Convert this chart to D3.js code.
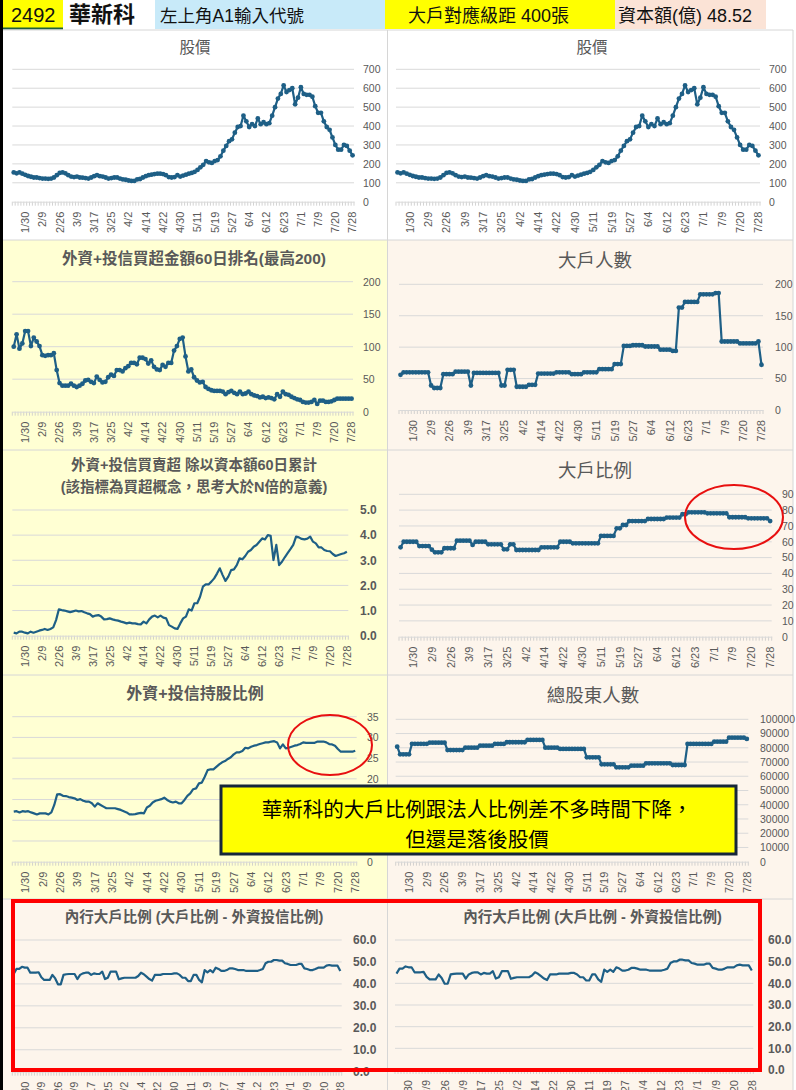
<!DOCTYPE html>
<html>
<head>
<meta charset="utf-8">
<script src="https://cdn.jsdelivr.net/npm/d3@7"></script>
<style>
  body { margin: 0; background: #fff; }
  svg text { font-family: "Liberation Sans", Arial, "Noto Sans CJK TC", sans-serif; }
</style>
</head>
<body>
<svg id="chart" width="796" height="1090"></svg>
<script>
// category axis: 119 trading days, only every 6th date is labelled
const tickLabels = ["1/30","2/9","2/26","3/9","3/17","3/25","4/2","4/14","4/22","4/30",
                    "5/11","5/19","5/27","6/4","6/12","6/23","7/1","7/9","7/20","7/28"];
const firstLabel = 4, labelEvery = 6;

// 股價
const price = [155,150,155,148,142,136,132,128,128,125,
  122,122,121,122,128,140,152,155,150,140,
  133,130,133,128,127,125,122,128,135,140,
  135,133,128,122,125,128,128,122,118,116,
  112,110,110,118,120,128,135,140,143,146,
  148,148,146,140,130,128,130,140,133,138,
  143,148,152,158,168,182,195,215,208,205,
  215,220,240,270,295,320,330,365,395,400,
  455,425,395,410,400,440,410,420,410,415,
  455,500,545,570,615,580,590,600,515,550,
  605,570,565,565,555,505,470,470,425,395,
  380,340,300,275,275,300,295,270,245];

// 外資+投信買超金額60日排名
const rank60 = [100,119,97,105,124,124,101,114,108,101,
  87,86,87,87,90,64,44,40,40,40,
  43,40,38,40,43,48,49,46,44,54,
  49,45,46,53,57,55,64,64,62,67,
  70,75,75,73,83,83,81,74,79,69,
  65,64,72,69,75,75,94,101,112,114,
  85,62,65,53,48,45,46,38,35,33,
  32,32,32,31,27,30,32,29,27,31,
  27,28,31,27,25,24,22,23,21,22,
  21,19,27,23,31,27,26,23,21,19,
  18,15,14,14,15,18,12,17,17,15,
  15,16,18,20,20,20,20,20,20];

// 大戶人數
const bigHolders = [56,60,60,60,60,60,60,60,60,60,
  39,35,35,35,57,57,57,57,61,61,
  61,61,61,39,59,59,59,59,59,59,
  59,59,59,39,39,64,64,64,37,37,
  37,37,40,40,40,58,58,58,58,58,
  58,60,60,60,60,60,57,57,57,57,
  60,60,60,60,60,65,65,65,65,65,
  73,73,73,102,102,102,103,103,103,103,
  101,101,101,101,101,96,96,96,96,94,
  94,163,163,172,172,172,172,172,184,184,
  184,184,184,186,186,109,109,109,109,109,
  109,106,106,106,106,106,106,109,72];

// 外資+投信買賣超 除以資本額60日累計
const netBuyRatio = [0.12,0.09,0.16,0.16,0.12,0.09,0.16,0.12,0.16,0.20,
  0.23,0.27,0.23,0.27,0.33,0.62,1.05,1.02,1.00,0.97,
  0.94,0.97,1.00,0.97,0.98,0.93,0.89,0.86,0.76,0.80,
  0.82,0.76,0.65,0.66,0.69,0.65,0.62,0.60,0.56,0.53,
  0.49,0.52,0.49,0.49,0.46,0.45,0.56,0.49,0.65,0.76,
  0.80,0.73,0.80,0.72,0.69,0.42,0.36,0.29,0.27,0.49,
  0.69,0.76,1.05,1.00,1.29,1.29,1.55,1.95,2.04,2.04,
  2.15,2.28,2.47,2.68,2.41,2.18,2.35,2.61,2.64,2.81,
  3.08,3.04,3.17,3.34,3.41,3.54,3.61,3.74,3.87,3.83,
  4.00,3.97,3.01,3.61,2.81,2.94,3.12,3.28,3.44,3.61,
  3.94,3.91,3.85,3.83,3.86,3.94,3.74,3.67,3.51,3.51,
  3.41,3.37,3.36,3.25,3.17,3.21,3.25,3.28,3.34];

// 大戶比例
const bigRatio = [56.5,60,60,60,60,60,57.3,57.3,57.3,57.3,
  55,53.3,53.3,53.3,55.9,55.9,55.9,55.9,60.7,60.7,
  60.7,60.7,60.7,58,60,60,60,60,58.4,58.4,
  58.4,58.4,58.4,55.2,55.2,58.4,58.4,54.8,54.8,54.8,
  54.8,54.8,54.8,54.8,54.8,56.5,56.5,56.5,56.5,56.5,
  56.5,60,60,60,60,59,59,59,59,59,
  59,59,59,59,63.7,63.7,63.7,63.7,63.7,68.5,
  68.5,70.6,70.6,73.1,73.1,73.1,73.1,73.1,73.1,74.4,
  74.4,74.4,74.4,74.4,74.4,75.3,75.3,75.3,75.3,75.3,
  77.4,77.4,78.6,78.6,78.6,78.6,78.6,78.6,78,78,
  78,78,78,78,78,75.5,75.5,75.5,75.5,75.5,
  75.5,74.8,74.8,74.8,74.8,74.8,74.8,74.8,73.1];

// 外資+投信持股比例
const instRatio = [12.07,12.2,11.9,12.2,12.07,12.2,11.9,11.67,11.4,11.67,
  11.67,11.67,11.4,11.9,13.7,16.25,16.3,15.9,15.85,15.6,
  15.45,15.3,14.9,15.1,14.7,14.5,14.5,14.1,13.3,14.1,
  13.7,13.3,12.9,12.9,12.9,12.9,12.7,12.5,12.2,11.9,
  11.4,11.4,11.5,11.67,11.8,11.67,13.1,13.5,14.3,14.7,
  14.9,15.1,15.45,14.9,14.5,14.3,14.5,14.1,14.1,14.9,
  15.9,16.5,17.5,17.7,18.9,19.1,20.5,22.1,22.3,22.3,
  22.9,23.5,24.0,24.3,24.8,25.2,25.9,26.4,26.4,26.7,
  27.5,27.35,27.75,28.0,28.15,28.4,28.6,28.8,28.8,29.0,
  29.1,28.8,27.35,28.3,27.35,27.5,27.75,28.0,28.15,28.4,
  28.8,28.7,28.7,28.7,28.7,29.0,29.0,29.0,28.8,28.4,
  28.3,28.0,27.2,26.55,26.55,26.55,26.55,26.55,26.8];

// 總股東人數
const shareholders = [80800,75400,75400,75400,75400,82800,82800,82800,82800,82800,
  82800,83600,83600,83600,83600,83600,83600,78400,78400,78400,
  78400,78400,78400,80100,80100,80100,80100,80100,81500,81500,
  81500,81500,81500,82700,82700,82700,82700,83900,83900,83900,
  83900,83900,83900,83900,85500,85500,85500,85500,85500,85500,
  80100,80100,80100,80100,80100,79200,79200,79200,79200,79200,
  79200,79200,79200,79200,73300,73300,73300,73300,73300,68400,
  68400,68400,68400,68400,66300,66300,66300,66300,66300,67400,
  67400,67400,67400,67400,69100,69100,69100,69100,69100,69100,
  69100,69100,69100,67900,67900,67900,67900,67900,82700,82700,
  82700,82700,82700,82700,82700,82700,82700,84300,84300,84300,
  84300,84300,87100,87100,87100,87100,87100,87100,86200];

// 內行大戶比例 (大戶比例 - 外資投信比例)
const insiderRatio = [44.5,46.8,46.8,47.8,47.4,47.4,45.1,45.1,45.1,45.3,
  43.0,41.8,41.8,41.8,44.1,42.5,39.8,39.8,44.1,44.4,
  44.5,44.5,44.5,42.2,44.1,44.8,45.1,45.1,44.1,44.8,
  44.5,44.5,45.6,42.2,42.8,45.6,45.6,45.6,42.1,42.5,
  42.8,42.8,42.8,42.8,42.8,43.6,45.1,44.4,43.3,42.2,
  41.5,44.1,44.1,44.1,44.5,44.5,44.5,44.5,44.8,44.8,
  44.1,42.8,42.8,41.3,41.3,44.1,44.1,41.8,40.7,46.3,
  45.3,46.3,45.3,47.4,46.8,45.9,45.9,46.3,47.1,47.1,
  46.8,46.3,46.3,46.3,45.9,45.9,45.9,45.9,45.9,46.3,
  46.8,49.4,50.1,50.1,50.9,50.9,50.6,50.6,49.4,49.1,
  48.6,48.6,48.6,49.1,49.1,47.1,46.8,46.3,46.3,46.8,
  47.4,47.4,47.4,48.3,48.6,48.3,48.3,48.3,45.9];

const svg = d3.select("#chart");
const lineColor = "#1e5f86", labelColor = "#595959", gridColor = "#d9d9d9";
const yellowBg = "#ffffd3", peachBg = "#fdf5ec";

// ---- backgrounds and cell borders
svg.append("rect").attr("x", 0).attr("y", 0).attr("width", 796).attr("height", 1090).attr("fill", "#fff");
svg.append("rect").attr("x", 3).attr("y", 240).attr("width", 385).attr("height", 659).attr("fill", yellowBg);
svg.append("rect").attr("x", 388).attr("y", 240).attr("width", 405).attr("height", 659).attr("fill", peachBg);
svg.append("rect").attr("x", 3).attr("y", 899).attr("width", 790).attr("height", 191).attr("fill", peachBg);
[240, 450, 675, 899].forEach(yy => svg.append("line")
  .attr("x1", 3).attr("x2", 793).attr("y1", yy).attr("y2", yy).attr("stroke", "#d6d6d6"));
[387.5, 793].forEach(xx => svg.append("line")
  .attr("x1", xx).attr("x2", xx).attr("y1", 30).attr("y2", 1090).attr("stroke", "#d6d6d6"));
svg.append("rect").attr("x", 0).attr("y", 0).attr("width", 3).attr("height", 1090).attr("fill", "#000");

// ---- header row
const header = [
  {x: 3, w: 60, fill: "#ffff00", text: "2492", tx: 11, size: 20, weight: "normal"},
  {x: 63, w: 92, fill: "#ffffff", text: "華新科", tx: 69, size: 22, weight: "bold"},
  {x: 155, w: 230, fill: "#c8eaf9", text: "左上角A1輸入代號", tx: 160, size: 17.5, weight: "normal"},
  {x: 385, w: 230, fill: "#ffff00", text: "大戶對應級距 400張", tx: 408, size: 18, weight: "normal"},
  {x: 615, w: 151, fill: "#fbe3d6", text: "資本額(億) 48.52", tx: 618, size: 18, weight: "normal"}
];
svg.selectAll(".hcell").data(header).join("rect")
  .attr("x", d => d.x).attr("y", 0).attr("width", d => d.w).attr("height", 29).attr("fill", d => d.fill);
svg.selectAll(".htext").data(header).join("text")
  .attr("x", d => d.tx).attr("y", 22).text(d => d.text)
  .attr("font-size", d => d.size).attr("font-weight", d => d.weight).attr("fill", "#111");
svg.append("line").attr("x1", 3).attr("x2", 63).attr("y1", 28.5).attr("y2", 28.5)
  .attr("stroke", "#1f5e3c").attr("stroke-width", 2);
svg.append("line").attr("x1", 3).attr("x2", 793).attr("y1", 30).attr("y2", 30).attr("stroke", "#d6d6d6");

// ---- one chart panel
function drawPanel(p) {
  const n = p.data.length;
  const g = svg.append("g");
  const x = d3.scaleBand().domain(d3.range(n)).range([p.x0, p.x1]);
  const y = d3.scaleLinear().domain([0, p.max]).range([p.yBot, p.yTop]);
  const ticks = d3.range(0, p.max + p.step / 2, p.step);

  g.selectAll(".grid").data(ticks.slice(1)).join("line")
    .attr("x1", p.x0).attr("x2", p.x1)
    .attr("y1", d => y(d)).attr("y2", d => y(d))
    .attr("stroke", gridColor);

  // small tick marks between categories
  g.selectAll(".minor").data(d3.range(n + 1)).join("line")
    .attr("x1", i => p.x0 + i * x.step()).attr("x2", i => p.x0 + i * x.step())
    .attr("y1", p.yBot).attr("y2", p.yBot + 4)
    .attr("stroke", "#c8c8c8").attr("stroke-width", 0.8);

  const labelIdx = tickLabels.map((_, k) => firstLabel + k * labelEvery);
  const xa = g.append("g").attr("transform", `translate(0,${p.yBot})`)
    .call(d3.axisBottom(x).tickValues(labelIdx)
      .tickFormat(i => tickLabels[(i - firstLabel) / labelEvery])
      .tickSize(0).tickSizeOuter(0));
  xa.select(".domain").attr("stroke", gridColor);
  xa.selectAll("text")
    .attr("transform", "rotate(-90)").attr("text-anchor", "end")
    .attr("x", -10).attr("y", 0).attr("dy", "0.35em")
    .attr("fill", labelColor).attr("font-size", 11);

  const ya = g.append("g").attr("transform", `translate(${p.lx},0)`)
    .call(d3.axisRight(y).tickValues(ticks).tickFormat(p.fmt).tickSize(0).tickPadding(0));
  ya.select(".domain").remove();
  ya.selectAll("text").attr("fill", labelColor)
    .attr("font-size", p.boldY ? 12 : 10.5)
    .attr("font-weight", p.boldY ? "bold" : "normal");

  const line = d3.line().x((d, i) => x(i) + x.bandwidth() / 2).y(d => y(d));
  g.append("path").datum(p.data).attr("d", line)
    .attr("fill", "none").attr("stroke", lineColor).attr("stroke-width", 2.2)
    .attr("stroke-linejoin", "round");
  if (p.markers) {
    g.selectAll(".dot").data(p.data).join("circle")
      .attr("cx", (d, i) => x(i) + x.bandwidth() / 2).attr("cy", d => y(d))
      .attr("r", 2.4).attr("fill", lineColor);
  }

  p.title.forEach((t, k) => g.append("text")
    .attr("x", p.tx).attr("y", p.ty[k]).attr("text-anchor", "middle")
    .attr("dominant-baseline", "central")
    .attr("font-size", p.tsize).attr("font-weight", p.tbold ? "bold" : "normal")
    .attr("fill", labelColor).text(t));
}

const fInt = d3.format("d"), fOne = d3.format(".1f");
const panels = [
  {data: price, x0: 12.3, x1: 354, yTop: 69.3, yBot: 201.7, max: 700, step: 100, lx: 363, fmt: fInt,
   markers: true, title: ["股價"], tx: 195, ty: [47], tsize: 15.5, tbold: false},
  {data: price, x0: 396, x1: 760, yTop: 69.3, yBot: 201.7, max: 700, step: 100, lx: 769, fmt: fInt,
   markers: true, title: ["股價"], tx: 592, ty: [47], tsize: 15.5, tbold: false},
  {data: rank60, x0: 12.3, x1: 353, yTop: 281.7, yBot: 411.7, max: 200, step: 50, lx: 363, fmt: fInt,
   markers: true, title: ["外資+投信買超金額60日排名(最高200)"], tx: 194, ty: [258], tsize: 15.5, tbold: true},
  {data: bigHolders, x0: 399, x1: 763, yTop: 284.3, yBot: 410, max: 200, step: 50, lx: 775, fmt: fInt,
   markers: true, title: ["大戶人數"], tx: 595, ty: [260.5], tsize: 18.5, tbold: false},
  {data: netBuyRatio, x0: 12.3, x1: 348.3, yTop: 510, yBot: 635.7, max: 5, step: 1, lx: 360, fmt: fOne,
   markers: false, boldY: true, title: ["外資+投信買賣超 除以資本額60日累計", "(該指標為買超概念，思考大於N倍的意義)"],
   tx: 194, ty: [465, 487], tsize: 14.5, tbold: true},
  {data: bigRatio, x0: 399, x1: 771.7, yTop: 494.3, yBot: 636.7, max: 90, step: 10, lx: 782, fmt: fInt,
   markers: true, title: ["大戶比例"], tx: 595, ty: [470.5], tsize: 18.5, tbold: false},
  {data: instRatio, x0: 12.3, x1: 356.7, yTop: 716.7, yBot: 861.7, max: 35, step: 5, lx: 367, fmt: fInt,
   markers: false, title: ["外資+投信持股比例"], tx: 195, ty: [693], tsize: 16, tbold: true},
  {data: shareholders, x0: 395.7, x1: 748.3, yTop: 719.3, yBot: 861.7, max: 100000, step: 10000, lx: 760, fmt: fInt,
   markers: true, title: ["總股東人數"], tx: 593, ty: [695], tsize: 18.5, tbold: false},
  {data: insiderRatio, x0: 12.3, x1: 341.7, yTop: 940, yBot: 1071.7, max: 60, step: 10, lx: 353, fmt: fOne,
   markers: false, boldY: true, title: ["內行大戶比例 (大戶比例 - 外資投信比例)"], tx: 194, ty: [916.5], tsize: 14.5, tbold: true},
  {data: insiderRatio, x0: 395, x1: 753.3, yTop: 940, yBot: 1070, max: 60, step: 10, lx: 768, fmt: fOne,
   markers: false, boldY: true, title: ["內行大戶比例 (大戶比例 - 外資投信比例)"], tx: 592.5, ty: [916.5], tsize: 14.5, tbold: true}
];
panels.forEach(drawPanel);

// ---- annotations
svg.append("ellipse").attr("cx", 734).attr("cy", 517).attr("rx", 49).attr("ry", 32)
  .attr("fill", "none").attr("stroke", "#e81010").attr("stroke-width", 2);
svg.append("ellipse").attr("cx", 330).attr("cy", 745).attr("rx", 42).attr("ry", 30)
  .attr("fill", "none").attr("stroke", "#e81010").attr("stroke-width", 2);

svg.append("rect").attr("x", 221).attr("y", 786).attr("width", 515).attr("height", 68)
  .attr("fill", "#ffff00").attr("stroke", "#16263a").attr("stroke-width", 3);
const note = ["華新科的大戶比例跟法人比例差不多時間下降，", "但還是落後股價"];
svg.selectAll(".note").data(note).join("text")
  .attr("x", 477).attr("y", (d, i) => 808 + i * 30)
  .attr("text-anchor", "middle").attr("dominant-baseline", "central")
  .attr("font-size", 20.5).attr("fill", "#000")
  .style("font-family", "'Noto Sans CJK TC', sans-serif")
  .text(d => d);

svg.append("rect").attr("x", 13).attr("y", 901).attr("width", 747).attr("height", 169)
  .attr("fill", "none").attr("stroke", "#ff0000").attr("stroke-width", 4);
</script>
</body>
</html>
